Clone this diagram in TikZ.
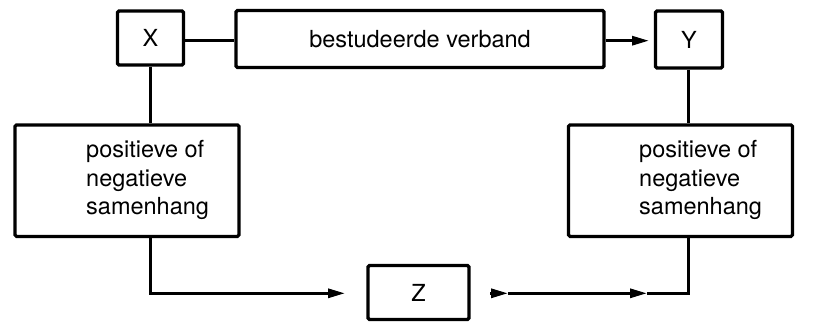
\documentclass[tikz,border=0pt]{standalone}
\usepackage{fontspec}
\setmainfont{TeX Gyre Heros}
\usetikzlibrary{arrows.meta}
\begin{document}
\begin{tikzpicture}[x=1pt,y=-1pt,
  box/.style={draw, line width=3.2pt, rounded corners=1.5pt, inner sep=0pt},
  conn/.style={line width=3pt},
  arr/.style={conn, -{Triangle[length=17pt,width=9pt]}},
  lbl/.style={font=\fontsize{23.5}{28.5}\selectfont, inner sep=0pt}]
\useasboundingbox (0,0) rectangle (822,322);

% top row
\node[box, minimum width=66pt, minimum height=54pt, lbl] (X) at (150.5,38) {X};
\node[box, minimum width=368pt, minimum height=57pt, lbl] (V) at (420,39) {bestudeerde verband};
\node[box, minimum width=67pt, minimum height=57pt, lbl] (Y) at (689,39.5) {Y};

% middle boxes
\node[box, minimum width=224pt, minimum height=111.5pt] (LB) at (127,180.7) {};
\node[lbl, align=left, anchor=west] (LBT) at (86,180) {positieve of\\negatieve\\samenhang};
\node[box, minimum width=224pt, minimum height=111.5pt] (RB) at (680.5,180.7) {};
\node[lbl, align=left, anchor=west] (RBT) at (639,180) {positieve of\\negatieve\\samenhang};

% bottom box
\node[box, minimum width=101pt, minimum height=54pt, lbl] (Z) at (418.5,292.5) {Z};

% helper points
\coordinate (xs) at (150,0);
\coordinate (ys) at (688,0);
\coordinate (zl) at (345,293.3);
\coordinate (h1a) at (490,293.3);
\coordinate (h1b) at (508,293.3);
\coordinate (h2) at (647,293.3);
\coordinate (ye) at (649,40.7);

% connectors
\draw[conn] (X.east |- 0,40) -- (V.west |- 0,40);
\draw[arr] (V.east |- ye) -- (ye);
\draw[conn] (xs |- X.south) -- (xs |- LB.north);
\draw[conn] (ys |- Y.south) -- (ys |- RB.north);
\draw[arr] (xs |- LB.south) |- (zl);
\draw[arr] (h1a) -- (h1b);
\draw[arr] (h1b) -- (h2);
\draw[conn] (h2) -| (ys |- RB.south);
\end{tikzpicture}
\end{document}
